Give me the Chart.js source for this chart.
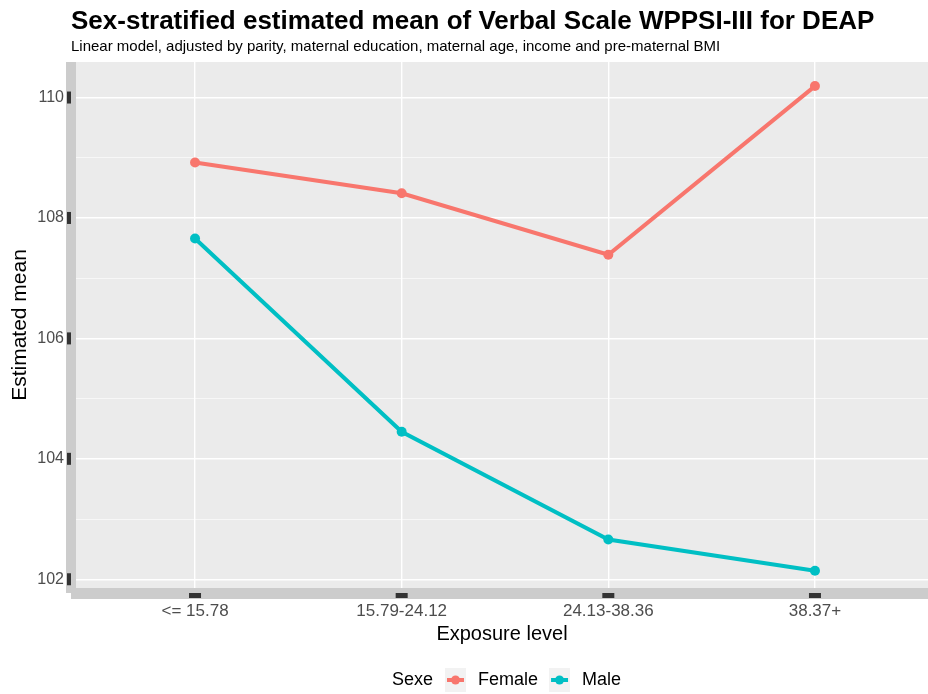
<!DOCTYPE html>
<html>
<head>
<meta charset="utf-8">
<script src="https://cdn.jsdelivr.net/npm/chart.js@4.4.1/dist/chart.umd.min.js"></script>
<style>
  html, body { margin: 0; padding: 0; background: #fff; }
  canvas { display: block; }
</style>
</head>
<body>
<canvas id="myChart" width="928" height="694"></canvas>
<script>
const categories = ['<= 15.78', '15.79-24.12', '24.13-38.36', '38.37+'];
const female = [108.92, 108.41, 107.39, 110.19];
const male = [107.66, 104.45, 102.66, 102.14];
const yMajor = [102, 104, 106, 108, 110];
const yMinor = [103, 105, 107, 109];

const FONT = "'Liberation Sans', Arial, sans-serif";
Chart.defaults.font.family = FONT;

const toPoints = arr => arr.map((v, i) => ({ x: i, y: v }));

// ggplot-like panel, grey axis bars, thick tick marks, titles and legend
const gg = {
    id: 'gg',
    beforeDraw(chart) {
        const { ctx, chartArea: a } = chart;
        ctx.save();
        ctx.fillStyle = '#EBEBEB';
        ctx.fillRect(a.left, a.top, a.right - a.left, a.bottom - a.top);
        ctx.fillStyle = '#CCCCCC';
        ctx.fillRect(a.left - 10, a.top, 10, a.bottom - a.top + 5);
        ctx.fillRect(a.left - 5, a.bottom, a.right - a.left + 5, 11);
        ctx.restore();
    },
    afterDraw(chart) {
        const { ctx, chartArea: a } = chart;
        const xs = chart.scales.x, ys = chart.scales.y;
        ctx.save();
        ctx.fillStyle = '#333333';
        yMajor.forEach(v => {
            const y = ys.getPixelForValue(v);
            ctx.fillRect(a.left - 9, y - 6, 4, 12);
        });
        categories.forEach((c, i) => {
            const x = xs.getPixelForValue(i);
            ctx.fillRect(x - 6, a.bottom + 5, 12, 5);
        });

        // titles
        ctx.fillStyle = '#000';
        ctx.textAlign = 'left';
        ctx.textBaseline = 'alphabetic';
        ctx.font = 'bold 26px ' + FONT;
        ctx.fillText('Sex-stratified estimated mean of Verbal Scale WPPSI-III for DEAP', 71, 29);
        ctx.font = '15px ' + FONT;
        ctx.fillText('Linear model, adjusted by parity, maternal education, maternal age, income and pre-maternal BMI', 71, 51);

        // legend
        ctx.font = '18px ' + FONT;
        ctx.textBaseline = 'middle';
        const ly = 680;
        let lx = 392;
        ctx.fillText('Sexe', lx, ly);
        lx += ctx.measureText('Sexe').width + 12;
        chart.data.datasets.forEach(ds => {
            ctx.fillStyle = '#F2F2F2';
            ctx.fillRect(lx, ly - 12, 21, 24);
            ctx.strokeStyle = ds.borderColor;
            ctx.lineWidth = 4;
            ctx.beginPath();
            ctx.moveTo(lx + 2, ly);
            ctx.lineTo(lx + 19, ly);
            ctx.stroke();
            ctx.fillStyle = ds.borderColor;
            ctx.beginPath();
            ctx.arc(lx + 10.5, ly, 4.5, 0, Math.PI * 2);
            ctx.fill();
            lx += 21 + 12;
            ctx.fillStyle = '#000';
            ctx.fillText(ds.label, lx, ly);
            lx += ctx.measureText(ds.label).width + 11;
        });
        ctx.restore();
    }
};

const ctx = document.getElementById('myChart');
const myChart = new Chart(ctx, {
    type: 'line',
    data: {
        datasets: [{
            label: 'Female',
            data: toPoints(female),
            borderColor: '#F8766D',
            backgroundColor: '#F8766D',
            borderWidth: 4,
            pointRadius: 5,
            pointBorderWidth: 0
        }, {
            label: 'Male',
            data: toPoints(male),
            borderColor: '#00BFC4',
            backgroundColor: '#00BFC4',
            borderWidth: 4,
            pointRadius: 5,
            pointBorderWidth: 0
        }]
    },
    options: {
        responsive: false,
        animation: false,
        devicePixelRatio: 1,
        layout: {
            autoPadding: false,
            padding: { top: 62, bottom: 44, left: 0, right: 0 }
        },
        plugins: {
            legend: { display: false },
            tooltip: { enabled: false }
        },
        scales: {
            x: {
                type: 'linear',
                min: -0.576,
                max: 3.547,
                afterBuildTicks: s => { s.ticks = categories.map((c, i) => ({ value: i })); },
                afterFit: s => { s.height = 62; s.paddingLeft = 0; s.paddingRight = 0; },
                ticks: {
                    callback: v => categories[v],
                    autoSkip: false,
                    maxRotation: 0,
                    padding: 13,
                    color: '#4D4D4D',
                    font: { size: 17 }
                },
                grid: { color: '#FFFFFF', lineWidth: 1.4, drawTicks: false },
                border: { display: false },
                title: {
                    display: true,
                    text: 'Exposure level',
                    color: '#000',
                    font: { size: 20 },
                    padding: { top: 4, bottom: 4 }
                }
            },
            y: {
                min: 101.855,
                max: 110.59,
                afterBuildTicks: s => {
                    s.ticks = [...yMajor, ...yMinor].sort((p, q) => p - q).map(v => ({ value: v }));
                },
                afterFit: s => { s.width = 76; s.paddingTop = 0; s.paddingBottom = 0; },
                ticks: {
                    callback: v => yMajor.includes(v) ? v : '',
                    padding: 12,
                    color: '#4D4D4D',
                    font: { size: 16 }
                },
                grid: {
                    color: '#FFFFFF',
                    lineWidth: c => yMajor.includes(c.tick.value) ? 1.4 : 0.6,
                    drawTicks: false
                },
                border: { display: false },
                title: {
                    display: true,
                    text: 'Estimated mean',
                    color: '#000',
                    font: { size: 21 },
                    padding: { top: 8, bottom: 4 }
                }
            }
        }
    },
    plugins: [gg]
});
</script>
</body>
</html>
